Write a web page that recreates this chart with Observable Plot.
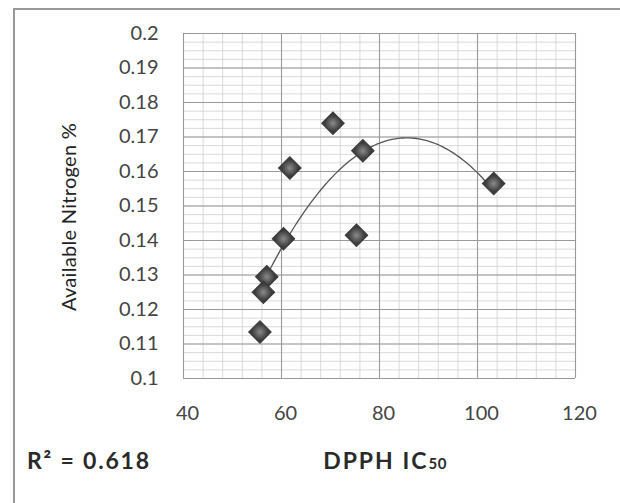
<!DOCTYPE html>
<html>
<head>
<meta charset="utf-8">
<script src="https://cdn.jsdelivr.net/npm/d3@7"></script>
<script src="https://cdn.jsdelivr.net/npm/@observablehq/plot@0.6"></script>
<style>
  html, body { margin: 0; padding: 0; background: #fff; }
  #chart { width: 620px; height: 503px; }
</style>
</head>
<body>
<div id="chart"></div>
<script>
// Data
const dpphIC50 = [70.5, 76.6, 61.7, 103.3, 60.4, 75.3, 57.0, 56.3, 55.6];
const availableN = [0.174, 0.166, 0.161, 0.1565, 0.1405, 0.1415, 0.1295, 0.125, 0.1135];
const xTicks = [40, 60, 80, 100, 120];
const yTicks = [0.1, 0.11, 0.12, 0.13, 0.14, 0.15, 0.16, 0.17, 0.18, 0.19, 0.2];
const r2Label = "R² = 0.618";

const points = dpphIC50.map((x, i) => ({x, y: availableN[i]}));

// Polynomial (order 2) least-squares trendline, as in the original chart
function polyFit2(xs, ys) {
  let n = xs.length, s = [0,0,0,0,0], t = [0,0,0];
  for (let i = 0; i < n; i++) {
    const x = xs[i], y = ys[i];
    for (let k = 0; k < 5; k++) s[k] += Math.pow(x, k);
    for (let k = 0; k < 3; k++) t[k] += Math.pow(x, k) * y;
  }
  const A = [[s[0], s[1], s[2], t[0]], [s[1], s[2], s[3], t[1]], [s[2], s[3], s[4], t[2]]];
  for (let c = 0; c < 3; c++) {
    let p = c;
    for (let r = c + 1; r < 3; r++) if (Math.abs(A[r][c]) > Math.abs(A[p][c])) p = r;
    [A[c], A[p]] = [A[p], A[c]];
    for (let r = 0; r < 3; r++) if (r !== c) {
      const f = A[r][c] / A[c][c];
      for (let k = c; k < 4; k++) A[r][k] -= f * A[c][k];
    }
  }
  return [A[0][3] / A[0][0], A[1][3] / A[1][1], A[2][3] / A[2][2]];
}
const coef = polyFit2(dpphIC50, availableN);
const xMin = d3.min(dpphIC50), xMax = d3.max(dpphIC50);
const trend = d3.range(0, 101).map(i => {
  const x = xMin + (xMax - xMin) * i / 100;
  return {x, y: coef[0] + coef[1] * x + coef[2] * x * x};
});

const font = "Lato, 'Open Sans', sans-serif";
const fmtY = d => String(+d.toFixed(2));

const chart = Plot.plot({
  width: 620,
  height: 503,
  marginLeft: 183,
  marginRight: 45,
  marginTop: 33,
  marginBottom: 125,
  style: {fontFamily: font, fontSize: "20px", color: "#444", background: "#fff"},
  x: {domain: [40, 120], label: null},
  y: {domain: [0.1, 0.2], label: null},
  marks: [
    Plot.gridX(d3.range(40, 121, 4), {stroke: "#cfcfcf", strokeOpacity: 1, strokeWidth: 0.8}),
    Plot.gridY(d3.range(0.1, 0.2001, 0.0025), {stroke: "#cfcfcf", strokeOpacity: 1, strokeWidth: 0.8}),
    Plot.gridX(xTicks, {stroke: "#9a9a9a", strokeOpacity: 1, strokeWidth: 1.1}),
    Plot.gridY(yTicks, {stroke: "#9a9a9a", strokeOpacity: 1, strokeWidth: 1.1}),
    Plot.axisX({ticks: xTicks, tickSize: 0, tickPadding: 27, dx: 4, fontSize: 20, fill: "#444",
      style: {letterSpacing: "2.5px"}}),
    Plot.axisY({ticks: yTicks, tickSize: 0, tickPadding: 25, fontSize: 20, fill: "#444",
      tickFormat: fmtY, style: {letterSpacing: "2.5px"}}),
    Plot.line(trend, {x: "x", y: "y", stroke: "#555", strokeWidth: 1.3, curve: "linear"}),
    Plot.dot(points, {x: "x", y: "y", symbol: "square", rotate: 45, r: 9,
      fill: "url(#diamondGrad)", stroke: "#3a3a3a", strokeWidth: 1})
  ]
});

// gradient for the bevelled diamond markers + outer chart border
const svg = d3.select(chart);
const defs = svg.insert("defs", ":first-child");
const g = defs.append("radialGradient").attr("id", "diamondGrad");
g.append("stop").attr("offset", "0%").attr("stop-color", "#8a8a8a");
g.append("stop").attr("offset", "100%").attr("stop-color", "#3c3c3c");
svg.append("path").attr("d", "M14,503 L14,9 L620,9")
  .attr("fill", "none").attr("stroke", "#999").attr("stroke-width", 2);

// Axis titles and R² annotation
svg.append("text")
  .attr("transform", "translate(76,217) rotate(-90)")
  .attr("text-anchor", "middle").attr("font-family", font).attr("font-size", 20)
  .attr("fill", "#222").style("letter-spacing", "0.3px").text("Available Nitrogen %");
const xt = svg.append("text").attr("x", 385).attr("y", 469)
  .attr("text-anchor", "middle").attr("font-family", font).attr("font-size", 23)
  .attr("font-weight", "bold").attr("fill", "#2a2a2a").style("letter-spacing", "2px");
xt.append("tspan").text("DPPH IC");
xt.append("tspan").attr("font-size", 15).style("letter-spacing", "0.5px").text("50");
svg.append("text").attr("x", 27).attr("y", 469).attr("text-anchor", "start")
  .attr("font-family", font).attr("font-size", 23).attr("font-weight", "bold")
  .attr("fill", "#2a2a2a").style("letter-spacing", "1.8px").text(r2Label);

document.getElementById("chart").appendChild(chart);
</script>
</body>
</html>
